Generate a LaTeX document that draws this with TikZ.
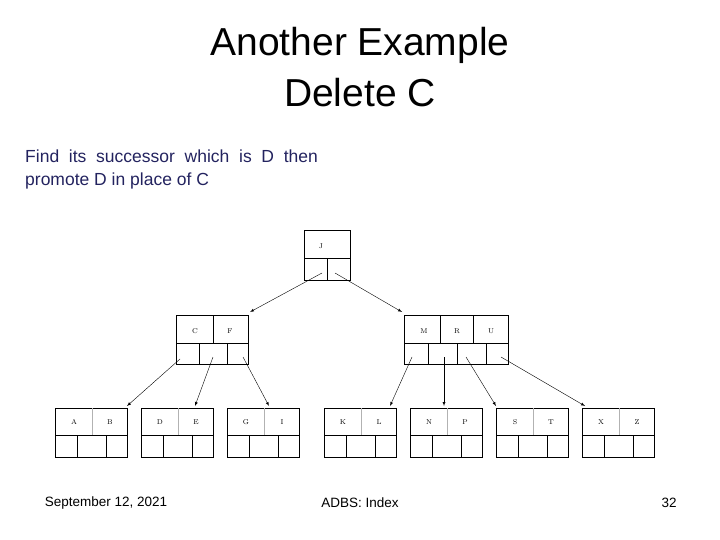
\documentclass[tikz,border=0pt]{standalone}
\usepackage{fontspec}
\usepackage{tikz}
\usetikzlibrary{positioning, arrows}
\newfontfamily\slidefont{Liberation Sans}
\definecolor{navy}{RGB}{35,35,95}
\tikzset{>=latex, ptr/.style={-{latex[scale=1.4]}, thin}, key/.style={font=\scriptsize, inner sep=0}}

% leaf box: name, left x, key 1, key 2
\newcommand{\leafbox}[4]{%
  \draw (#2,408) rectangle ++(72,49);
  \draw (#2,435) -- ++(72,0);
  \draw[gray!60] (#2+37,408) -- (#2+37,435);
  \draw (#2+22,435) -- (#2+22,457) (#2+51,435) -- (#2+51,457);
  \node[key] (#1a) at (#2+19,422) {#3};
  \node[key] (#1b) at (#2+55,422) {#4};
  \coordinate (#1) at (#2+36,406);
}

\begin{document}
\begin{tikzpicture}[x=1pt, y=-1pt]
        \useasboundingbox (0,0) rectangle (720,540);
        % titles
        \node[font=\slidefont\fontsize{39}{44}\selectfont] (t1) at (360,45) {Another Example};
        \node[font=\slidefont\fontsize{39}{44}\selectfont] (t2) at (360,93) {Delete C};
        \node[font=\slidefont\fontsize{17.5}{23}\selectfont, text=navy, align=left, anchor=north west, inner sep=0] (txt) at (25,150)
          {Find\ \ its\ \ successor\ \ which\ \ is\ \ D\ \ then\\promote D in place of C};

        % root
        \draw (304,230) rectangle (350,280);
        \draw (304,258) -- (350,258) (327,258) -- (327,280);
        \node[key] (j) at (321,246) {J};
        \coordinate (j1) at (322,273);
        \coordinate (j2) at (335,273);

        % C F
        \draw (176,315) rectangle (248,364);
        \draw (176,343) -- (248,343) (213,315) -- (213,343);
        \draw (199,343) -- (199,364) (227,343) -- (227,364);
        \node[key] (c) at (195,331) {C};
        \node[key] (f) at (230,331) {F};
        \coordinate (cf) at (250,312);
        \coordinate (cf1) at (180,359);
        \coordinate (cf2) at (213,357);
        \coordinate (cf3) at (243,357);

        % M R U
        \draw (404,315) rectangle (508,364);
        \draw (404,343) -- (508,343) (440,315) -- (440,343) (473,315) -- (473,343);
        \draw (428,343) -- (428,364) (457,343) -- (457,364) (486,343) -- (486,364);
        \node[key] (m) at (424,331) {M};
        \node[key] (r) at (457,331) {R};
        \node[key] (u) at (491,331) {U};
        \coordinate (mru) at (402,312);
        \coordinate (mru1) at (412,357);
        \coordinate (mru2) at (444,357);
        \coordinate (mru3) at (466,357);
        \coordinate (mru4) at (501,357);

        % leaves
        \leafbox{ab}{55}{A}{B}
        \leafbox{de}{141}{D}{E}
        \leafbox{gi}{227}{G}{I}
        \leafbox{kl}{324}{K}{L}
        \leafbox{np}{410}{N}{P}
        \leafbox{st}{496}{S}{T}
        \leafbox{xz}{582}{X}{Z}

        \draw[ptr] (j1) -- (cf);
        \draw[ptr] (j2) -- (mru);
        \draw[ptr] (cf1) -- ([xshift=36]ab);
        \draw[ptr] (cf2) -- ([xshift=18]de);
        \draw[ptr] (cf3) -- ([xshift=6]gi);
        \draw[ptr] (mru1) -- ([xshift=30]kl);
        \draw[ptr] (mru2) -- ([xshift=-2]np);
        \draw[ptr] (mru3) -- ([xshift=-36]st);
        \draw[ptr] (mru4) -- ([xshift=-33]xz);

        % footer
        \node[font=\slidefont\fontsize{13.5}{15}\selectfont] (date) at (106,503) {September 12, 2021};
        \node[font=\slidefont\fontsize{13.5}{15}\selectfont] (course) at (360,503) {ADBS: Index};
        \node[font=\slidefont\fontsize{13.5}{15}\selectfont] (page) at (669,503) {32};
\end{tikzpicture}
\end{document}
